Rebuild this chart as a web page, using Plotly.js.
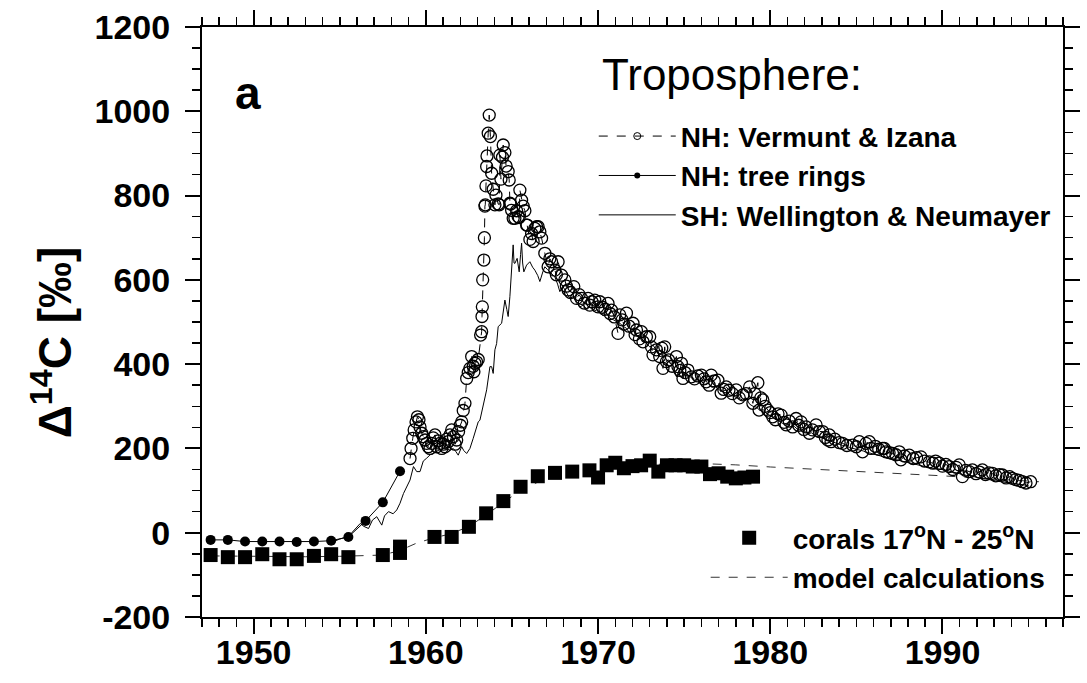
<!DOCTYPE html>
<html>
<head>
<meta charset="utf-8">
<script src="https://cdn.plot.ly/plotly-3.0.1.min.js"></script>
<style>html,body{margin:0;padding:0;background:#fff;}#chart{width:1087px;height:683px;}</style>
</head>
<body>
<div id="chart"></div>
<script>
// NH: Vermunt & Izana (open circles, dashed)
const nhYear = [1959.08,1959.14,1959.24,1959.32,1959.43,1959.51,1959.60,1959.66,1959.76,1959.85,1959.95,1960.05,1960.14,1960.24,1960.34,1960.43,1960.53,1960.63,1960.72,1960.82,1960.92,1961.01,1961.11,1961.21,1961.30,1961.40,1961.50,1961.60,1961.70,1961.79,1961.90,1962.00,1962.08,1962.17,1962.27,1962.37,1962.46,1962.56,1962.66,1962.75,1962.79,1962.85,1962.95,1963.04,1963.18,1963.24,1963.26,1963.28,1963.30,1963.37,1963.40,1963.43,1963.45,1963.49,1963.53,1963.55,1963.62,1963.68,1963.75,1963.82,1963.91,1964.01,1964.07,1964.20,1964.26,1964.30,1964.36,1964.45,1964.49,1964.59,1964.66,1964.78,1964.84,1964.88,1964.92,1964.98,1965.07,1965.17,1965.27,1965.36,1965.42,1965.46,1965.56,1965.65,1965.75,1965.85,1965.88,1966.04,1966.14,1966.23,1966.33,1966.43,1966.52,1966.62,1966.72,1966.91,1967.10,1967.20,1967.30,1967.49,1967.58,1967.68,1967.88,1968.07,1968.16,1968.26,1968.40,1968.59,1968.75,1968.90,1969.04,1969.20,1969.42,1969.52,1969.65,1969.81,1970.00,1970.10,1970.25,1970.40,1970.58,1970.70,1970.78,1970.95,1971.16,1971.26,1971.40,1971.50,1971.65,1971.80,1972.03,1972.15,1972.23,1972.40,1972.52,1972.61,1972.81,1973.00,1973.10,1973.19,1973.39,1973.58,1973.70,1973.77,1973.87,1973.97,1974.10,1974.30,1974.55,1974.64,1974.75,1974.84,1974.93,1975.05,1975.22,1975.42,1975.60,1975.80,1976.00,1976.15,1976.28,1976.45,1976.57,1976.75,1976.96,1977.15,1977.30,1977.44,1977.60,1977.80,1978.02,1978.20,1978.41,1978.60,1978.80,1978.99,1979.10,1979.28,1979.35,1979.45,1979.57,1979.70,1979.86,1980.00,1980.14,1980.30,1980.45,1980.63,1980.80,1980.92,1981.10,1981.30,1981.50,1981.65,1981.79,1981.95,1982.08,1982.27,1982.45,1982.66,1982.85,1983.04,1983.20,1983.35,1983.43,1983.53,1983.75,1984.00,1984.20,1984.45,1984.78,1985.00,1985.17,1985.36,1985.56,1985.75,1985.85,1986.10,1986.30,1986.52,1986.62,1986.72,1986.90,1987.10,1987.30,1987.49,1987.59,1987.80,1988.07,1988.30,1988.50,1988.75,1988.95,1989.23,1989.45,1989.60,1989.81,1990.00,1990.20,1990.39,1990.60,1990.80,1990.97,1991.16,1991.35,1991.55,1991.74,1991.95,1992.15,1992.32,1992.50,1992.70,1992.90,1993.10,1993.30,1993.48,1993.70,1993.90,1994.06,1994.25,1994.45,1994.64,1994.85,1995.12];
const nhVal = [176,200,224,244,263,275,268,251,236,228,220,212,204,200,212,225,232,204,218,212,200,210,204,222,216,232,244,228,210,220,240,255,263,290,307,366,380,390,418,395,382,402,405,411,469,477,513,536,600,647,700,775,778,823,869,894,948,991,940,853,815,778,801,780,778,896,839,891,920,902,870,857,837,782,780,765,746,746,764,750,748,813,789,775,764,730,730,696,710,691,722,726,726,714,699,663,631,650,643,623,612,643,611,600,585,576,570,584,556,565,556,545,556,540,548,552,536,548,535,530,544,520,528,512,473,517,505,495,521,490,497,470,481,460,477,453,465,465,441,422,434,418,438,390,441,406,410,395,418,394,385,402,366,380,386,370,365,372,374,365,358,350,374,360,362,331,340,346,338,330,339,320,327,330,346,307,330,356,291,320,315,300,291,285,275,268,282,279,262,256,265,251,271,255,263,245,251,236,244,256,240,240,226,220,232,216,222,214,212,207,208,204,216,192,212,216,200,205,198,200,200,192,190,188,185,192,173,182,184,176,178,180,170,168,165,170,165,158,162,157,150,155,161,133,148,145,149,140,144,149,138,142,141,135,138,137,130,133,129,126,124,121,118,121];

// NH: tree rings (filled circles, solid)
const treeYear = [1947.5,1948.5,1949.5,1950.5,1951.5,1952.5,1953.5,1954.5,1955.5,1956.5,1957.5,1958.5];
const treeVal = [-17,-17,-21,-21,-21,-22,-21,-19,-10,28,72,146];

// SH: Wellington & Neumayer (thin solid line)
const shYear = [1954.64,1955.00,1955.50,1955.90,1956.19,1956.40,1956.67,1956.90,1957.15,1957.44,1957.60,1957.83,1958.10,1958.31,1958.50,1958.70,1958.90,1959.08,1959.28,1959.47,1959.66,1959.85,1960.05,1960.25,1960.43,1960.70,1961.01,1961.21,1961.40,1961.59,1961.75,1961.88,1962.08,1962.20,1962.37,1962.56,1962.75,1963.04,1963.14,1963.33,1963.43,1963.53,1963.72,1963.82,1963.91,1964.01,1964.11,1964.20,1964.40,1964.59,1964.70,1964.78,1964.88,1964.98,1965.07,1965.12,1965.17,1965.30,1965.42,1965.50,1965.56,1965.62,1965.69,1965.85,1966.04,1966.20,1966.33,1966.50,1966.62,1966.80,1966.91,1967.05,1967.20,1967.35,1967.49,1967.65,1967.78,1967.95,1968.07,1968.20,1968.36,1968.55,1968.75,1968.94,1969.15,1969.35,1969.52,1969.75,1969.95,1970.10,1970.30,1970.50,1970.68,1970.90,1971.10,1971.26,1971.45,1971.65,1971.84,1972.05,1972.25,1972.42,1972.60,1972.80,1973.00,1973.20,1973.40,1973.58,1973.80,1974.00,1974.17,1974.35,1974.55,1974.75,1975.00,1975.20,1975.40,1975.60,1975.80,1976.00,1976.20,1976.40,1976.60,1976.80,1977.00,1977.20,1977.40,1977.60,1977.80,1978.00,1978.20,1978.40,1978.60,1978.80,1979.00,1979.20,1979.40,1979.60,1979.80,1980.00,1980.20,1980.40,1980.60,1980.80,1981.00,1981.20,1981.40,1981.60,1981.80,1982.00,1982.20,1982.40,1982.60,1982.80,1983.00,1983.20,1983.40,1983.60,1983.80,1984.00,1984.20,1984.40,1984.60,1984.80,1985.00,1985.20,1985.40,1985.60,1985.80,1986.00,1986.20,1986.40,1986.60,1986.80,1987.00,1987.20,1987.40,1987.60,1987.80,1988.00,1988.20,1988.40,1988.60,1988.80,1989.00,1989.20,1989.40,1989.60,1989.80,1990.00,1990.20,1990.40,1990.60,1990.80,1991.00,1991.20,1991.40,1991.60,1991.80,1992.00,1992.20,1992.40,1992.60,1992.80,1993.00,1993.20,1993.40,1993.60,1993.80,1994.00,1994.20,1994.40,1994.60,1994.80,1995.00];
const shVal = [-21,-15,-9,10,22,15,10,30,38,18,40,50,45,54,70,93,110,125,157,145,145,170,177,185,188,195,200,200,195,200,192,184,204,195,188,200,224,263,267,299,323,339,394,394,378,434,449,489,497,552,530,513,560,631,683,640,639,651,619,660,687,640,619,635,643,630,623,610,596,620,631,625,619,612,607,590,572,585,576,565,556,560,545,536,540,530,536,525,530,521,515,520,509,505,500,497,490,485,473,478,468,465,458,450,441,445,430,418,420,410,402,398,370,390,380,375,368,362,365,358,352,355,345,348,340,335,338,328,325,322,318,315,320,305,300,298,290,292,282,278,272,270,262,258,260,250,252,245,246,240,235,237,230,228,225,222,218,216,212,210,207,206,202,200,198,195,194,190,189,186,185,182,180,178,176,175,172,170,168,167,165,162,161,158,157,155,153,152,150,150,148,146,144,141,140,138,136,135,133,132,130,128,127,125,124,122,121,120,118,117,116,115,114,113,112];

// corals 17°N - 25°N (filled squares)
const coralYear = [1947.5,1948.5,1949.5,1950.5,1951.5,1952.5,1953.5,1954.5,1955.5,1957.5,1958.5,1958.5,1960.5,1961.5,1962.5,1963.5,1964.5,1965.5,1966.5,1967.5,1968.5,1969.5,1970.0,1970.5,1971.0,1971.5,1972.0,1972.5,1973.0,1973.5,1974.0,1974.5,1975.0,1975.5,1976.0,1976.5,1977.0,1977.5,1978.0,1978.5,1979.0];
const coralVal = [-53,-58,-58,-51,-63,-63,-55,-51,-58,-53,-48,-33,-10,-10,14,46,75,109,134,142,145,148,131,160,166,153,158,160,171,145,160,160,160,157,157,139,141,133,129,131,133];

// model calculations (thin dashed)
const modelYear = [1947.5,1949,1951,1953,1955,1956.5,1957.5,1958.5,1959.5,1960.5,1961.5,1962.5,1963.5,1964.5,1965.5,1966.5,1967.5,1968.5,1969.5,1970.5,1972,1974,1976,1978,1980,1982,1984,1986,1988,1990,1992,1994,1995.6];
const modelVal = [-55,-56,-57,-57,-56,-55,-53,-42,-24,-12,-2,15,42,72,100,120,133,142,149,155,160,163,164,161,156,152,148,143,139,135,130,125,121];

const xTickVals = [1950,1960,1970,1980,1990];
const yTickVals = [-200,0,200,400,600,800,1000,1200];

const FONT = 'Liberation Sans, Arial, sans-serif';

const traces = [
  {x: modelYear, y: modelVal, type:'scatter', mode:'lines', name:'<b>model calculations</b>',
   line:{color:'#333', width:1, dash:'dash'}, legend:'legend2', showlegend:true},
  {x: shYear, y: shVal, type:'scatter', mode:'lines', name:'SH: Wellington & Neumayer',
   line:{color:'#000', width:1}, showlegend:false},
  {x: nhYear, y: nhVal, type:'scatter', mode:'lines+markers', name:'NH: Vermunt & Izana',
   line:{color:'#000', width:1, dash:'dash'},
   marker:{symbol:'circle-open', size:12, color:'#000', line:{width:1.3, color:'#000'}}, showlegend:false},
  {x: treeYear, y: treeVal, type:'scatter', mode:'lines+markers', name:'NH: tree rings',
   line:{color:'#000', width:1}, marker:{symbol:'circle', size:10, color:'#000'}, showlegend:false},
  {x: coralYear, y: coralVal, type:'scatter', mode:'markers', name:'<b>corals 17<sup>o</sup>N - 25<sup>o</sup>N</b>',
   marker:{symbol:'square', size:14, color:'#000'}, legend:'legend2', showlegend:true},
  // legend-only entries (smaller symbols like the original key)
  {x:[null], y:[null], type:'scatter', mode:'lines+markers', name:'<b>NH: Vermunt & Izana</b>',
   line:{color:'#000', width:1, dash:'dash'}, marker:{symbol:'circle-open', size:7, color:'#000', line:{width:1}}, legend:'legend'},
  {x:[null], y:[null], type:'scatter', mode:'lines+markers', name:'<b>NH: tree rings</b>',
   line:{color:'#000', width:1}, marker:{symbol:'circle', size:6, color:'#000'}, legend:'legend'},
  {x:[null], y:[null], type:'scatter', mode:'lines', name:'<b>SH: Wellington & Neumayer</b>',
   line:{color:'#000', width:1}, legend:'legend'}
];

const axisCommon = {
  showgrid:false, zeroline:false, showline:true, linecolor:'#000', linewidth:2,
  mirror:'ticks', ticks:'outside', ticklen:15, tickwidth:2, tickcolor:'#000',
  tickfont:{family:FONT, size:34, color:'#000', weight:'bold'}
};

const layout = {
  width:1087, height:683,
  margin:{l:202, r:24, t:27, b:66},
  paper_bgcolor:'#fff', plot_bgcolor:'#fff',
  font:{family:FONT, color:'#000'},
  xaxis: Object.assign({}, axisCommon, {
    range:[1947, 1997], tickmode:'array', tickvals:xTickVals, ticktext:xTickVals.map(String),
    ticklabelstandoff:-11,
    minor:{dtick:1, tick0:1950, ticks:'outside', ticklen:8, tickwidth:1.5, tickcolor:'#000'}
  }),
  yaxis: Object.assign({}, axisCommon, {
    range:[-200, 1200], tickmode:'array', tickvals:yTickVals, ticktext:yTickVals.map(String),
    ticklabelstandoff:8,
    minor:{dtick:50, tick0:0, ticks:'outside', ticklen:8, tickwidth:1.5, tickcolor:'#000'}
  }),
  showlegend:true,
  legend:{x:0.455, y:0.857, xanchor:'left', yanchor:'top', bgcolor:'rgba(0,0,0,0)',
    font:{family:FONT, size:28, color:'#000'}, itemwidth:77, tracegroupgap:0},
  legend2:{x:0.585, y:0.176, xanchor:'left', yanchor:'top', bgcolor:'rgba(0,0,0,0)',
    font:{family:FONT, size:28, color:'#000'}, itemwidth:77, traceorder:'reversed'},
  annotations:[
    {text:'Troposphere:', xref:'paper', yref:'paper', x:0.462, y:0.919, xanchor:'left', yanchor:'middle',
     showarrow:false, font:{family:FONT, size:44, color:'#000'}},
    {text:'<b>a</b>', xref:'paper', yref:'paper', x:0.054, y:0.888, xanchor:'center', yanchor:'middle',
     showarrow:false, font:{family:FONT, size:46, color:'#000'}},
    {text:'<b>Δ<sup>14</sup>C [‰]</b>', xref:'paper', yref:'paper', x:-0.174, y:0.466, xanchor:'center', yanchor:'middle',
     textangle:-90, showarrow:false, font:{family:FONT, size:46, color:'#000'}}
  ]
};

Plotly.newPlot('chart', traces, layout, {displayModeBar:false, staticPlot:true});
</script>
</body>
</html>
